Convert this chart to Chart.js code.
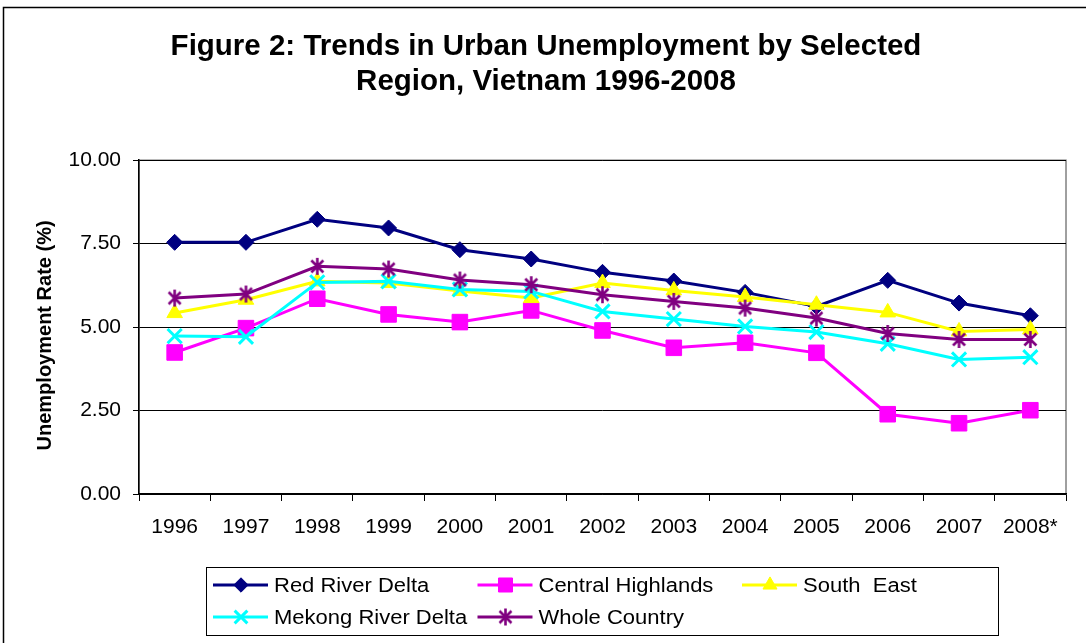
<!DOCTYPE html>
<html>
<head>
<meta charset="utf-8">
<title>Urban Unemployment by Region, Vietnam 1996-2008</title>
<script src="https://cdn.jsdelivr.net/npm/chart.js@4.4.0/dist/chart.umd.min.js"></script>
<style>
  html, body { margin: 0; padding: 0; background: #fff; }
  canvas { display: block; }
</style>
</head>
<body>
<canvas id="chart" width="1086" height="643"></canvas>
<script>
const years = ['1996', '1997', '1998', '1999', '2000', '2001', '2002', '2003', '2004', '2005', '2006', '2007', '2008*'];

// urban unemployment rate, %
const redRiverDelta    = [7.54, 7.54, 8.23, 7.97, 7.32, 7.04, 6.64, 6.38, 6.04, 5.62, 6.40, 5.72, 5.34];
const centralHighlands = [4.24, 4.97, 5.85, 5.38, 5.15, 5.50, 4.90, 4.38, 4.53, 4.23, 2.39, 2.12, 2.51];
const southEast        = [5.42, 5.82, 6.37, 6.32, 6.08, 5.87, 6.32, 6.10, 5.90, 5.67, 5.44, 4.87, 4.93];
const mekongRiverDelta = [4.73, 4.71, 6.34, 6.37, 6.13, 6.07, 5.47, 5.24, 5.02, 4.85, 4.50, 4.03, 4.10];
const wholeCountry     = [5.87, 5.99, 6.82, 6.74, 6.41, 6.27, 5.97, 5.77, 5.57, 5.27, 4.81, 4.63, 4.63];

const yTicks = [0, 2.5, 5, 7.5, 10];

const FONT = '"Liberation Sans", Arial, sans-serif';

// asterisk marker: vertical bar plus an X
function asterisk(color, size, lw) {
  const c = document.createElement('canvas');
  c.width = size; c.height = size;
  const g = c.getContext('2d');
  const m = size / 2, r = size / 2 - 1;
  const d = r * Math.SQRT1_2;
  g.strokeStyle = color;
  g.lineWidth = lw;
  g.beginPath();
  g.moveTo(m, m - r); g.lineTo(m, m + r);
  g.moveTo(m - d, m - d); g.lineTo(m + d, m + d);
  g.moveTo(m - d, m + d); g.lineTo(m + d, m - d);
  g.stroke();
  return c;
}

const series = [
  { label: 'Red River Delta',    data: redRiverDelta,    color: '#000080', style: 'rectRot',  radius: 8,  order: 5 },
  { label: 'Central Highlands',  data: centralHighlands, color: '#FF00FF', style: 'rect',     radius: 11, order: 4 },
  { label: 'South  East',        data: southEast,        color: '#FFFF00', style: 'triangle', radius: 9,  order: 3 },
  { label: 'Mekong River Delta', data: mekongRiverDelta, color: '#00FFFF', style: 'crossRot', radius: 10, order: 2 },
  { label: 'Whole Country',      data: wholeCountry,     color: '#800080', style: asterisk('#800080', 19, 2.6), radius: 9, order: 1 }
];

const datasets = series.map(s => ({
  label: s.label,
  data: s.data,
  order: s.order,
  borderColor: s.color,
  backgroundColor: s.color,
  borderWidth: 3,
  pointStyle: s.style,
  pointRadius: s.radius,
  pointHoverRadius: s.radius,
  pointBorderWidth: (s.style === 'crossRot') ? 3 : 1,
  pointBackgroundColor: s.color,
  pointBorderColor: s.color,
  tension: 0,
  fill: false
}));

// white page, outer frame, grey plot-area frame
const frame = {
  id: 'frame',
  beforeDraw(chart) {
    const { ctx, chartArea: a } = chart;
    ctx.save();
    ctx.fillStyle = '#fff';
    ctx.fillRect(0, 0, chart.width, chart.height);
    ctx.strokeStyle = '#000';
    ctx.lineWidth = 1.5;
    ctx.strokeRect(3.5, 7.5, chart.width + 10, chart.height + 10);
    ctx.strokeStyle = '#808080';
    ctx.lineWidth = 1.5;
    ctx.strokeRect(a.left, a.top, a.right - a.left, a.bottom - a.top);
    ctx.restore();
  }
};

// boxed legend laid out in three columns
const boxLegend = {
  id: 'boxLegend',
  afterDraw(chart) {
    const { ctx } = chart;
    const box = { x: 206.5, y: 567.5, w: 792, h: 68 };
    const colX = [213, 477.5, 742];
    const rowY = [585, 617];
    ctx.save();
    ctx.fillStyle = '#fff';
    ctx.fillRect(box.x, box.y, box.w, box.h);
    ctx.strokeStyle = '#000';
    ctx.lineWidth = 1;
    ctx.strokeRect(box.x, box.y, box.w, box.h);
    chart.data.datasets.forEach((ds, i) => {
      const x = colX[i % 3], y = rowY[Math.floor(i / 3)];
      ctx.strokeStyle = ds.borderColor;
      ctx.lineWidth = 3;
      ctx.beginPath();
      ctx.moveTo(x, y);
      ctx.lineTo(x + 55, y);
      ctx.stroke();
      ctx.fillStyle = ds.pointBackgroundColor;
      ctx.strokeStyle = ds.pointBorderColor;
      ctx.lineWidth = ds.pointBorderWidth;
      Chart.helpers.drawPoint(ctx, {
        pointStyle: ds.pointStyle,
        radius: ds.pointRadius * 0.9,
        rotation: 0,
        borderWidth: ds.pointBorderWidth
      }, x + 28, y);
      // slightly widened type, as in the legend face
      ctx.save();
      ctx.translate(x + 61, y + 1);
      ctx.scale(1.1, 1);
      ctx.fillStyle = '#000';
      ctx.font = '20px ' + FONT;
      ctx.textAlign = 'left';
      ctx.textBaseline = 'middle';
      ctx.fillText(ds.label, 0, 0);
      ctx.restore();
    });
    ctx.restore();
  }
};

Chart.defaults.font.family = FONT;
Chart.defaults.color = '#000';

new Chart(document.getElementById('chart'), {
  type: 'line',
  data: { labels: years, datasets },
  plugins: [frame, boxLegend],
  options: {
    responsive: false,
    animation: false,
    events: [],
    layout: { padding: { top: 8, left: 26, right: 20, bottom: 107 } },
    plugins: {
      legend: { display: false },
      tooltip: { enabled: false },
      title: {
        display: true,
        text: ['Figure 2: Trends in Urban Unemployment by Selected', 'Region, Vietnam 1996-2008'],
        color: '#000',
        font: { size: 29.5, weight: 'bold', lineHeight: 1.19 },
        padding: { top: 21, bottom: 61 }
      }
    },
    scales: {
      x: {
        offset: true,
        afterFit: s => { s.height = 42; },
        grid: { offset: true, drawOnChartArea: false, color: '#000', tickLength: 7, lineWidth: 1 },
        border: { color: '#000', width: 1.5 },
        ticks: { font: { size: 21 }, padding: 14, maxRotation: 0, autoSkip: false }
      },
      y: {
        min: 0,
        max: 10,
        afterFit: s => { s.width = 113; },
        afterBuildTicks: s => { s.ticks = yTicks.map(v => ({ value: v })); },
        grid: { color: '#000', tickLength: 6, lineWidth: 1 },
        border: { color: '#000', width: 1.5 },
        ticks: { font: { size: 21 }, padding: 12, callback: v => Number(v).toFixed(2) },
        title: {
          display: true,
          text: 'Unemployment Rate (%)   ',
          color: '#000',
          font: { size: 20, weight: 'bold' },
          padding: { top: 7, bottom: 0 }
        }
      }
    }
  }
});
</script>
</body>
</html>
